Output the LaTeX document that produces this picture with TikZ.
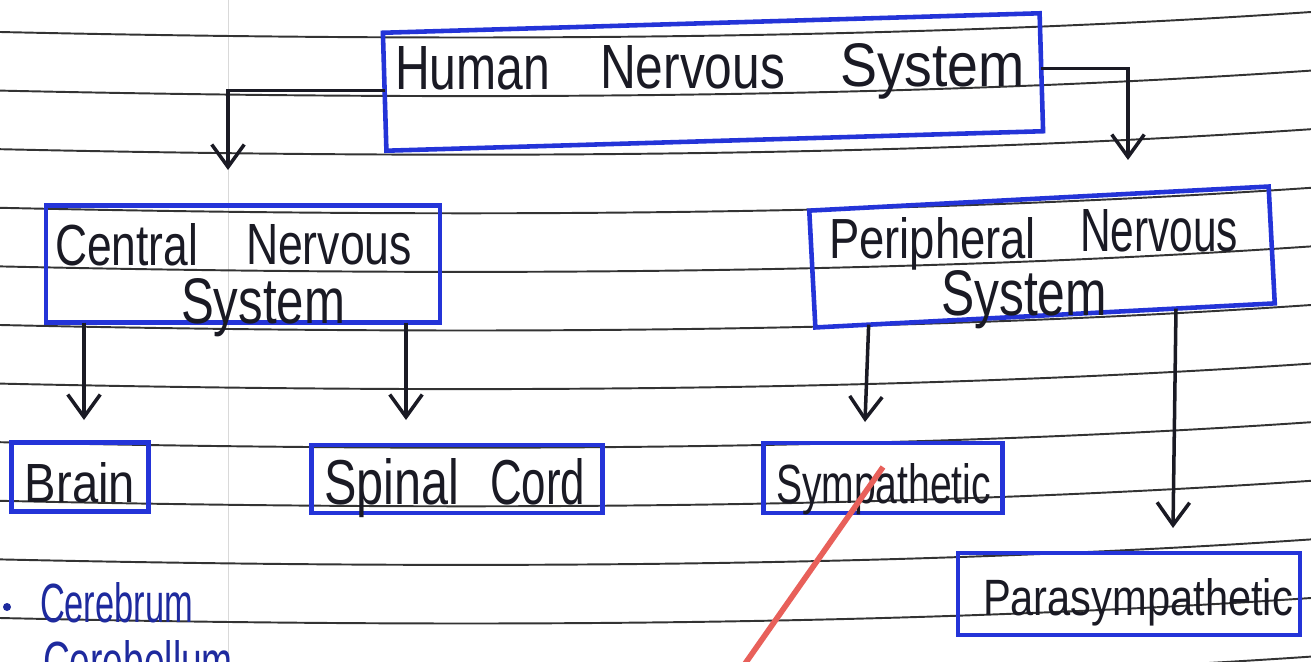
\documentclass[tikz,border=0pt]{standalone}
\usepackage{fontspec}
\setmainfont{Liberation Sans}
\usetikzlibrary{arrows.meta,calc}
\newlength\px
\setlength\px{0.02cm}
\newcommand\hw[3]{\resizebox{#1\px}{#2\px}{#3}}
\definecolor{pen}{HTML}{1A1A24}
\definecolor{boxblue}{HTML}{2434D8}
\definecolor{ink}{HTML}{1E2A9E}
\definecolor{rule}{HTML}{333333}
\definecolor{redline}{HTML}{E8605A}
\begin{document}
\begin{tikzpicture}[x=0.02cm,y=-0.02cm,
  box/.style={draw=boxblue,line width=2.6pt,inner sep=0pt,outer sep=0pt,rectangle},
  lbl/.style={inner sep=0pt,outer sep=0pt,anchor=base west,text=pen},
  arr/.style={draw=pen,line width=2pt,-{Straight Barb[length=4.5mm,width=6.5mm,line width=2pt]}},
  ruled/.style={draw=rule,line width=1.1pt}]
\useasboundingbox (0,0) rectangle (1311,662);
\clip (0,0) rectangle (1311,662);
\fill[white] (0,0) rectangle (1311,662);
% notebook rules
\draw[gray!30,line width=0.5pt] (228,0) -- (228,662);
\foreach \k in {0,...,11}{
  \pgfmathsetmacro\yy{32+58.6*\k}
  \draw[ruled] (0,\yy) .. controls (450,{\yy+10}) and (900,{\yy+8}) .. (1311,{\yy-20});
}
% boxes
\node[box,rotate=1.7,minimum width=657\px,minimum height=118\px] (hns) at (713,82) {};
\node[box,minimum width=394\px,minimum height=117\px] (cns) at (243,264) {};
\node[box,rotate=3,minimum width=460\px,minimum height=117\px] (pns) at (1042,257) {};
\node[box,minimum width=137\px,minimum height=69\px] (brain) at (80,477) {};
\node[box,minimum width=291\px,minimum height=68\px] (spinal) at (457,479) {};
\node[box,minimum width=239\px,minimum height=70\px] (symp) at (883,478) {};
\node[box,minimum width=342\px,minimum height=82\px] (para) at (1129,594) {};
% labels
\node[lbl] (t-hns1) at (395,90) {\hw{155}{43}{Human}};
\node[lbl] (t-hns2) at (600,89) {\hw{185}{43}{Nervous}};
\node[lbl] (t-hns3) at (840,87) {\hw{185}{43}{System}};
\node[lbl] (t-cns1) at (55,265) {\hw{143}{42}{Central}};
\node[lbl] (t-cns2) at (246,265) {\hw{166}{40}{Nervous}};
\node[lbl] (t-cns3) at (181,323) {\hw{164}{45}{System}};
\node[lbl] (t-pns1) at (829,258) {\hw{207}{41}{Peripheral}};
\node[lbl] (t-pns2) at (1080,252) {\hw{158}{42}{Nervous}};
\node[lbl] (t-pns3) at (941,315) {\hw{166}{45}{System}};
\node[lbl] (t-brain) at (25,502) {\hw{110}{40}{Brain}};
\node[lbl] (t-spinal1) at (324,504) {\hw{135}{46}{Spinal}};
\node[lbl] (t-spinal2) at (490,504) {\hw{95}{46}{Cord}};
\node[lbl] (t-symp) at (776,503) {\hw{215}{40}{Sympathetic}};
\node[lbl] (t-para) at (983,615) {\hw{310}{37}{Parasympathetic}};
\node[circle,fill=ink,inner sep=0pt,minimum size=8\px] (bullet) at (7,607) {};
\node[lbl,text=ink] (t-cer1) at (40,622) {\hw{153}{40}{Cerebrum}};
\node[lbl,text=ink] (t-cer2) at (43,680) {\hw{190}{40}{Cerebellum}};
% arrow ends
\coordinate (cns-in) at (228,170);
\coordinate (pns-in) at (1128,160);
\coordinate (brain-in) at (84,420);
\coordinate (spinal-in) at (406,420);
\coordinate (symp-in) at (865,422);
\coordinate (para-in) at (1173,528);
\draw[arr] ([yshift=1\px]hns.west) -| (cns-in);
\draw[arr] ([yshift=4\px]hns.east) -| (pns-in);
\draw[arr] (cns.south -| brain-in) -- (brain-in);
\draw[arr] (cns.south -| spinal-in) -- (spinal-in);
\draw[arr] ($(pns.south west)!0.116!(pns.south east)$) -- (symp-in);
\draw[arr] ($(pns.south west)!0.785!(pns.south east)$) -- (para-in);
% red stroke
\coordinate (r1) at (883,467);
\coordinate (r2) at (742,668);
\draw[redline,line width=3.2pt] (r1) -- (r2);
\end{tikzpicture}
\end{document}
